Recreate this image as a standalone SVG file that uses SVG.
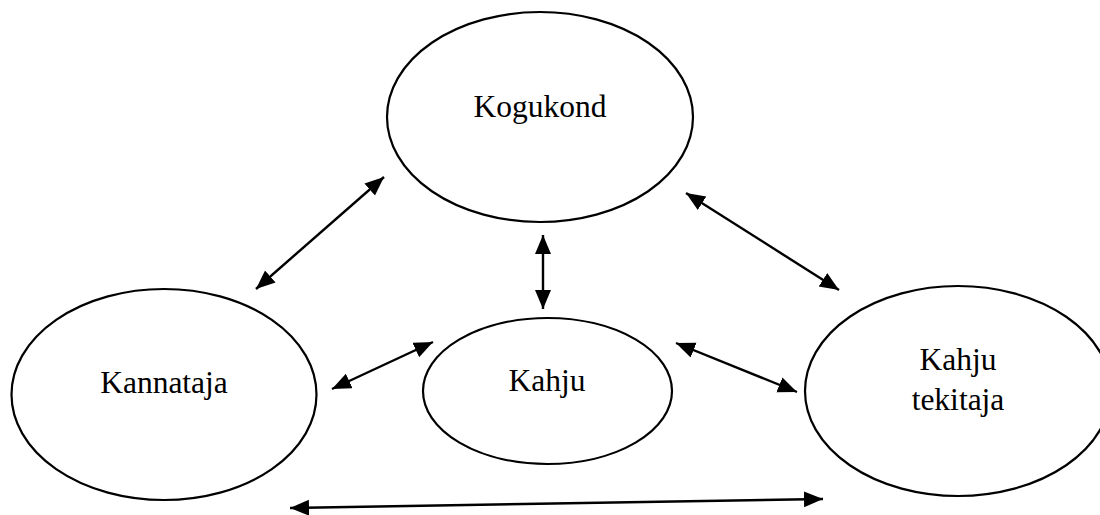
<svg xmlns="http://www.w3.org/2000/svg" width="1100" height="515" viewBox="0 0 1100 515">
<style>
.node{fill:#fff;stroke:#000;stroke-width:2.2}
.lbl{font-family:"Liberation Serif","Times New Roman",serif;font-size:31.5px;fill:#000;text-anchor:middle}
.conn{stroke:#000;stroke-width:2.4;fill:none;marker-start:url(#ah);marker-end:url(#ah)}
</style>
<defs>
<marker id="ah" markerUnits="userSpaceOnUse" markerWidth="20" markerHeight="17" refX="19" refY="8" orient="auto-start-reverse" viewBox="0 0 20 17">
<path d="M0,0 L19,8 L0,16 z" fill="#000"/>
</marker>
</defs>
<rect width="1100" height="515" fill="#fff"/>
<g id="kogukond">
<ellipse class="node" cx="540" cy="117" rx="153" ry="105"/>
<text class="lbl" x="540" y="117">Kogukond</text>
</g>
<g id="kannataja">
<ellipse class="node" cx="164" cy="394.5" rx="152.5" ry="105.5"/>
<text class="lbl" x="164" y="393">Kannataja</text>
</g>
<g id="kahju">
<ellipse class="node" cx="547.5" cy="391" rx="124.5" ry="73"/>
<text class="lbl" x="547" y="391">Kahju</text>
</g>
<g id="kahju-tekitaja">
<ellipse class="node" cx="958" cy="391" rx="153" ry="105"/>
<text class="lbl" x="958" y="370">Kahju</text>
<text class="lbl" x="958" y="410">tekitaja</text>
</g>
<g id="connectors">
<line class="conn" x1="256" y1="289" x2="384" y2="177"/>
<line class="conn" x1="543" y1="235" x2="543" y2="309"/>
<line class="conn" x1="686" y1="193" x2="839" y2="290"/>
<line class="conn" x1="332" y1="389" x2="433" y2="342"/>
<line class="conn" x1="676" y1="343" x2="797" y2="392"/>
<line class="conn" x1="290" y1="508" x2="823" y2="499"/>
</g>
</svg>
